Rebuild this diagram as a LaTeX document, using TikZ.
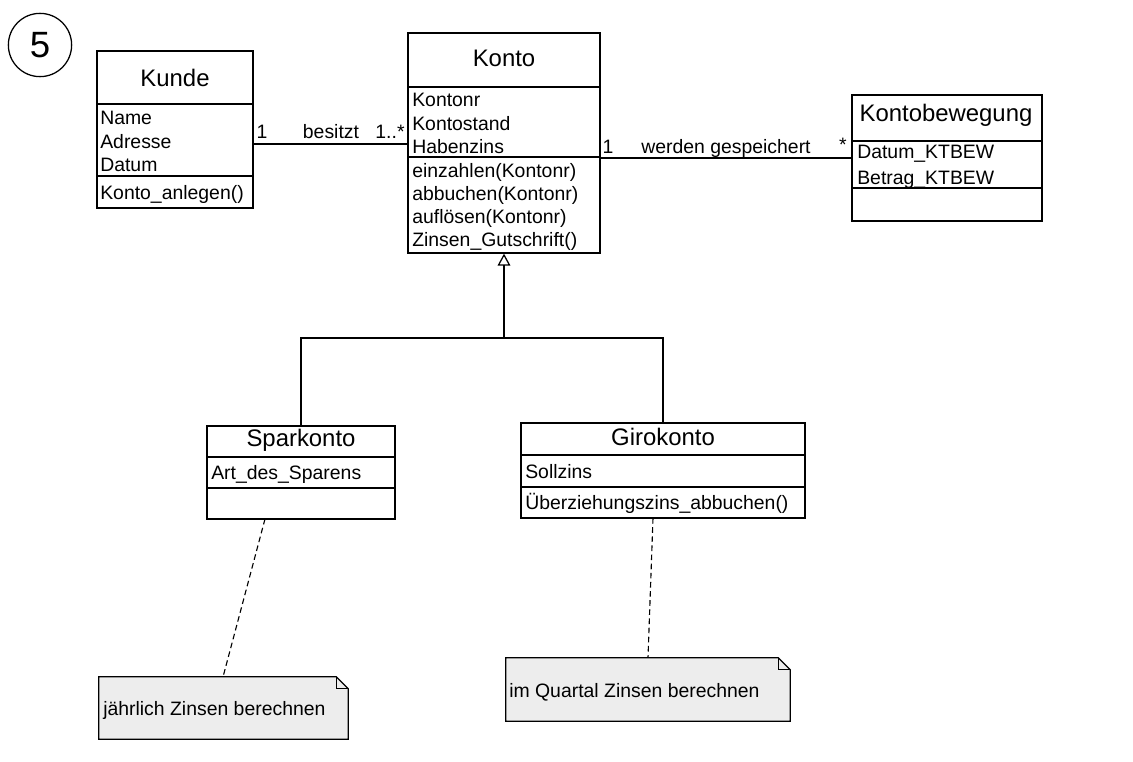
\documentclass[tikz,border=0pt]{standalone}
\usepackage{fontspec}
\setmainfont{Liberation Sans}
\usetikzlibrary{shapes,fit,arrows.meta}

\begin{document}
\begin{tikzpicture}[x=0.025cm,y=-0.025cm]
    \tikzstyle{klasse}=[draw,line width=0.9pt,inner sep=0pt]
    \tikzstyle{titel}=[inner sep=0pt,font=\fontsize{17}{20}\selectfont]
    \tikzstyle{eintrag}=[anchor=west,inner sep=0pt,text height=10pt,text depth=3pt,yshift=-0.05cm,font=\fontsize{13.8}{16}\selectfont]
    \tikzstyle{rolle}=[inner sep=0pt,text height=10pt,text depth=3pt,yshift=-0.05cm,font=\fontsize{13.8}{16}\selectfont]
    \tikzstyle{linie}=[line width=0.9pt]
    \tikzstyle{notiz}=[draw,line width=0.9pt,fill=gray!14]
    \tikzstyle{anker}=[dashed,line width=0.8pt,dash pattern=on 4pt off 2.5pt]

    \useasboundingbox (0,0) rectangle (1133,762);

    % Aufgabennummer
    \node[draw,circle,line width=0.9pt,minimum size=45pt,inner sep=0pt,
          font=\fontsize{26}{28}\selectfont] (nummer) at (40,45) {5};

    % Kunde
    \node[klasse,fit={(97,51) (253,208)}] (kunde) {};
    \node[titel] (kundeT) at (175,78) {Kunde};
    \draw[linie] (97,104) -- (253,104);
    \draw[linie] (97,176) -- (253,176);
    \node[eintrag] at (100,118) {Name};
    \node[eintrag] at (100,142) {Adresse};
    \node[eintrag] at (100,165) {Datum};
    \node[eintrag] at (100,193) {Konto\_anlegen()};

    % Konto
    \node[klasse,fit={(408,33) (600,253)}] (konto) {};
    \node[titel] (kontoT) at (504,58) {Konto};
    \draw[linie] (408,87) -- (600,87);
    \draw[linie] (408,157) -- (600,157);
    \node[eintrag] at (412,100) {Kontonr};
    \node[eintrag] at (412,124) {Kontostand};
    \node[eintrag] at (412,147) {Habenzins};
    \node[eintrag] at (412,171) {einzahlen(Kontonr)};
    \node[eintrag] at (412,194) {abbuchen(Kontonr)};
    \node[eintrag] at (412,217) {aufl\"osen(Kontonr)};
    \node[eintrag] at (412,240) {Zinsen\_Gutschrift()};

    % Kontobewegung
    \node[klasse,fit={(852,95) (1042,221)}] (bewegung) {};
    \node[titel] (bewegungT) at (946,115) {Kontobewegung};
    \draw[linie] (852,141) -- (1042,141);
    \draw[linie] (852,188) -- (1042,188);
    \node[eintrag] at (857,152) {Datum\_KTBEW};
    \node[eintrag] at (857,178) {Betrag\_KTBEW};

    % Sparkonto
    \node[klasse,fit={(207,426) (395,519)}] (spar) {};
    \node[titel] (sparT) at (301,440) {Sparkonto};
    \draw[linie] (207,457) -- (395,457);
    \draw[linie] (207,488) -- (395,488);
    \node[eintrag] at (211,473) {Art\_des\_Sparens};

    % Girokonto
    \node[klasse,fit={(521,423) (805,518)}] (giro) {};
    \node[titel] (giroT) at (663,437) {Girokonto};
    \draw[linie] (521,455) -- (805,455);
    \draw[linie] (521,487) -- (805,487);
    \node[eintrag] at (525,472) {Sollzins};
    \node[eintrag] at (525,503) {\"Uberziehungszins\_abbuchen()};

    % Assoziationen
    \coordinate (besitztA) at (253,144);
    \coordinate (besitztB) at (408,144);
    \draw[linie] (besitztA) -- (besitztB);
    \node[rolle] at (262,132) {1};
    \node[rolle] at (331,132) {besitzt};
    \node[rolle] at (390,132) {1..*};

    \coordinate (speichA) at (600,158);
    \coordinate (speichB) at (852,158);
    \draw[linie] (speichA) -- (speichB);
    \node[rolle] at (608,147) {1};
    \node[rolle] at (726,147) {werden gespeichert};
    \node[rolle] at (843,145) {*};

    % Vererbung
    \coordinate (gabel) at (504,338);
    \draw[linie] (spar.north) |- (gabel) -| (giro.north);
    \draw[linie,-{Triangle[open,length=8.5pt,width=9pt]}] (gabel) -- (konto.south);

    % Notizen
    \node[inner sep=0pt,fit={(99,677) (348,739)}] (notizSpar) {};
    \draw[notiz] (notizSpar.south west) -- (notizSpar.north west)
        -- ([xshift=-12*0.025cm]notizSpar.north east)
        -- ([yshift=-12*0.025cm]notizSpar.north east)
        -- (notizSpar.south east) -- cycle;
    \draw[line width=0.5pt] ([xshift=-12*0.025cm]notizSpar.north east) -- ++(0,12) -- ++(12,0);
    \node[eintrag] at (103,709) {j\"ahrlich Zinsen berechnen};

    \node[inner sep=0pt,fit={(506,658) (790,721)}] (notizGiro) {};
    \draw[notiz] (notizGiro.south west) -- (notizGiro.north west)
        -- ([xshift=-12*0.025cm]notizGiro.north east)
        -- ([yshift=-12*0.025cm]notizGiro.north east)
        -- (notizGiro.south east) -- cycle;
    \draw[line width=0.5pt] ([xshift=-12*0.025cm]notizGiro.north east) -- ++(0,12) -- ++(12,0);
    \node[eintrag] at (509,691) {im Quartal Zinsen berechnen};

    \coordinate (sparAnker) at (265,519);
    \coordinate (giroAnker) at (653,518);
    \draw[anker] (sparAnker) -- (223,677);
    \draw[anker] (giroAnker) -- (notizGiro.north west -| 648,0);
\end{tikzpicture}
\end{document}
